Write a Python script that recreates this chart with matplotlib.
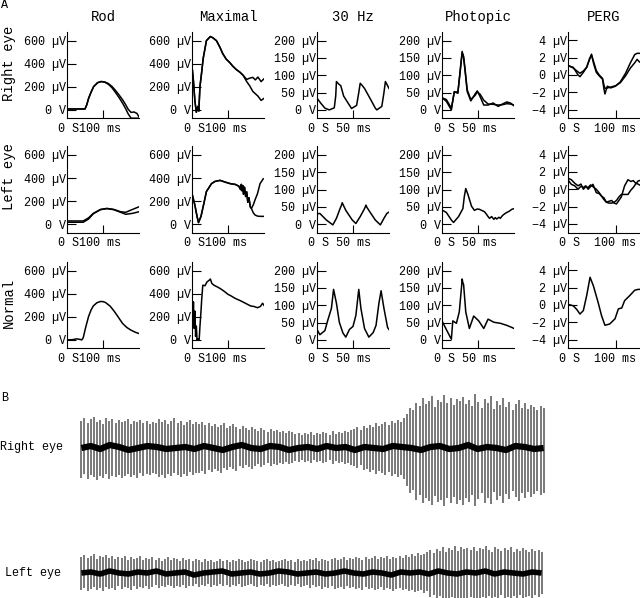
import numpy as np
import matplotlib.pyplot as plt

W, H = 640, 598
plt.rcParams['font.family'] = ['Liberation Mono', 'DejaVu Sans Mono']

# ---------------- panel A data (time in ms, amplitude in uV) ----------------
# row 1: right eye
rod_re_t = [0, 25, 50, 55, 60, 67, 74, 85, 95, 105, 115, 125, 135, 145, 155, 163, 170, 178, 186, 194, 200]
rod_re_a = [8, 8, 8, 45, 100, 155, 202, 236, 246, 240, 222, 192, 150, 105, 55, 10, -35, -72, -72, -72, -72]
rod_re_b = [8, 8, 8, 45, 100, 155, 202, 236, 246, 242, 228, 203, 168, 128, 85, 45, 5, -22, -18, -30, -60]

max_re_t = [0, 4, 8, 12, 16, 19, 22, 27, 31, 36, 40, 46, 51, 58, 68, 78, 85, 95, 105, 113, 123, 133, 142,
            152, 160, 169, 176, 183, 192, 200]
max_re_a = [380, 250, 80, -20, 30, -10, 200, 330, 445, 530, 600, 620, 636, 625, 600, 540, 490, 440, 410, 380,
            350, 327, 300, 264, 275, 282, 260, 285, 245, 270]
max_re_b = [380, 250, 80, -20, 30, -10, 200, 330, 445, 530, 600, 620, 636, 625, 600, 540, 490, 440, 410, 380,
            350, 327, 300, 245, 210, 160, 140, 120, 82, 100]

hz_re_t = [0, 5, 11, 17, 24, 26, 27, 30, 33, 37, 44, 48, 55, 58, 60, 63, 66, 74, 81, 83, 90, 93, 95, 100]
hz_re_v = [34, 20, 5, 0, 6, 40, 82, 75, 70, 40, 17, 4, 13, 50, 77, 70, 62, 32, 5, 0, 10, 50, 82, 62]

pho_re_t = [0, 6, 13, 17, 20, 22, 25, 28, 30, 32, 35, 40, 46, 49, 53, 58, 64, 71, 78, 84, 90, 95, 100]
pho_re_a = [35, 25, 0, 53, 50, 48, 110, 169, 150, 114, 53, 26, 46, 55, 38, 14, 14, 20, 10, 17, 23, 20, 12]
pho_re_b = [35, 30, 5, 50, 52, 50, 105, 165, 155, 118, 58, 30, 42, 52, 45, 28, 17, 16, 14, 15, 18, 17, 14]

perg_re_t = [0, 12, 22, 26, 33, 40, 46, 50, 54, 60, 66, 73, 76, 78, 83, 90, 100, 110, 121, 131, 140, 145, 150]
perg_re_a = [1.08, 0.88, 0.0, -0.2, 0.3, 0.88, 1.8, 2.4, 1.4, 0.3, -0.1, -0.5, -1.65, -2.2, -1.3, -1.5, -1.3,
             -0.8, 0.2, 1.4, 2.35, 2.5, 2.5]
perg_re_b = [1.15, 0.8, 0.35, 0.2, 0.45, 0.9, 1.9, 2.3, 1.6, 0.5, 0.0, -0.4, -1.2, -1.55, -1.5, -1.4, -1.25,
             -0.9, -0.1, 0.8, 1.4, 1.8, 1.5]

# row 2: left eye
rod_le_t = [0, 25, 45, 60, 73, 93, 111, 130, 149, 163, 182, 200]
rod_le_a = [28, 28, 28, 55, 94, 128, 137, 128, 108, 103, 128, 151]
rod_le_b = [17, 17, 17, 45, 90, 126, 135, 126, 103, 86, 94, 108]

max_le_t = [0, 8, 14, 18, 25, 33, 40, 54, 64, 78, 92, 107, 120, 130, 135, 137, 139, 141, 143, 146, 149, 152,
            155, 158, 162, 165, 170, 175, 182, 189, 198]
max_le_a = [266, 165, 68, 14, 68, 180, 283, 351, 371, 380, 365, 351, 345, 330, 300, 345, 290, 335, 260, 320,
            240, 280, 190, 230, 150, 137, 100, 80, 70, 68, 68]
max_le_b = [266, 165, 68, 14, 68, 180, 283, 351, 371, 380, 365, 351, 345, 330, 300, 345, 290, 335, 260, 320,
            240, 280, 190, 230, 150, 137, 166, 210, 266, 351, 394]

hz_le_t = [0, 4, 13, 22, 27, 32, 34, 35, 40, 49, 54, 60, 66, 68, 69, 72, 81, 88, 93, 97, 100]
hz_le_v = [30, 31, 12, -2, 17, 45, 55, 62, 40, 12, 2, 22, 45, 55, 50, 40, 12, -2, 17, 31, 35]

pho_le_t = [0, 6, 13, 16, 23, 29, 31, 33, 36, 41, 45, 49, 52, 55, 59, 62, 64, 66, 69, 72, 74, 76, 79, 81,
            84, 87, 90, 93, 97, 100]
pho_le_v = [41, 34, 12, 5, 22, 45, 80, 103, 86, 52, 40, 44, 43, 40, 36, 28, 22, 17, 22, 14, 19, 15, 20, 17,
            25, 30, 34, 37, 43, 45]

perg_le_t = [0, 8, 15, 22, 28, 33, 38, 43, 48, 53, 60, 66, 71, 76, 81, 86, 92, 97, 102, 107, 112, 119, 126,
             132, 137, 142, 147, 150]
perg_le_a = [1.14, 0.57, 0.4, 0.0, 0.35, 0.2, 0.4, 0.0, 0.3, 0.57, -0.4, -0.5, -0.8, -1.2, -1.5, -1.4, -1.3,
             -1.6, -1.7, -1.3, -0.9, 0.4, 1.1, 0.9, 1.0, 0.7, 0.6, 0.5]
perg_le_b = [1.3, 1.1, 0.7, 0.4, 0.6, 0.0, 0.3, 0.2, 0.5, 0.3, 0.0, -0.4, -0.8, -1.0, -1.5, -1.6, -1.6, -1.5,
             -1.3, -0.9, -0.6, -0.6, -0.6, -0.1, 0.2, 0.6, 0.95, 1.0]

# row 3: normal
rod_no_t = [0, 15, 27, 35, 41, 45, 52, 60, 67, 73, 83, 93, 100, 107, 120, 131, 143, 154, 166, 178, 190, 201]
rod_no_v = [0, 2, 9, 5, 0, 18, 110, 204, 260, 294, 322, 333, 332, 324, 292, 249, 195, 144, 108, 84, 66, 54]

max_no_t = [0, 2, 4, 6, 8, 10, 12, 14, 16, 18, 20, 22, 25, 27, 30, 36, 42, 47, 51, 55, 61, 70, 79, 90, 100,
            107, 120, 135, 150, 163, 172, 182, 190, 196, 200]
max_no_v = [354, 150, 330, 100, 250, 30, 120, 0, 10, 0, 5, 114, 250, 354, 474, 470, 504, 515, 528, 490, 474,
            460, 444, 420, 395, 384, 360, 339, 315, 294, 290, 279, 290, 318, 300]

hz_no_t = [0, 4, 11, 15, 20, 23, 27, 31, 36, 40, 45, 50, 54, 58, 61, 66, 72, 78, 82, 86, 89, 93, 98, 100]
hz_no_v = [30, 15, 27, 57, 91, 146, 106, 51, 20, 8, 30, 39, 71, 146, 91, 33, 8, 21, 42, 106, 142, 91, 36, 30]

pho_no_t = [0, 6, 13, 15, 20, 24, 27, 28, 29, 30, 33, 38, 44, 51, 58, 64, 72, 81, 90, 97, 100]
pho_no_v = [55, 30, 2, 55, 48, 81, 150, 176, 165, 160, 81, 33, 69, 55, 33, 60, 51, 48, 42, 36, 33]

perg_no_t = [0, 12, 19, 26, 33, 40, 47, 54, 64, 71, 78, 88, 99, 106, 113, 119, 130, 140, 147, 150]
perg_no_v = [0.1, -0.1, -0.5, -1.05, -0.65, 1.1, 3.2, 2.2, 0.25, -1.25, -2.35, -2.2, -1.6, -0.45, -0.35,
             0.5, 1.1, 1.7, 1.8, 1.8]

col_titles = ['Rod', 'Maximal', '30 Hz', 'Photopic', 'PERG']
row_titles = ['Right eye', 'Left eye', 'Normal']
x_strings = ['0 S100 ms', '0 S100 ms', '0 S 50 ms', '0 S 50 ms', '0 S  100 ms']
x_marks = [100, 100, 50, 50, 100]
x_lims = [(0, 200), (0, 200), (0, 100), (0, 100), (0, 150)]
y_lims = [(-72, 678), (-72, 678), (-24, 226), (-24, 226), (-5, 5)]
y_ticks = [[0, 200, 400, 600], [0, 200, 400, 600], [0, 50, 100, 150, 200], [0, 50, 100, 150, 200],
           [-4, -2, 0, 2, 4]]

# ---------------- panel B data (EOG deflections, px above / below baseline) ----------------
rt_up = [27, 30, 25, 29, 31, 26, 28, 24, 30, 27, 29, 25, 28, 26, 27, 29, 24, 27, 26, 28,
         25, 27, 24, 26, 25, 29, 26, 28, 24, 27, 30, 25, 27, 23, 26, 28, 24, 26,
         24, 26, 23, 25, 22, 24, 21, 23, 25, 20, 22, 24, 21, 19, 22, 20, 18, 21, 19, 17,
         20, 18, 16, 19, 17, 18, 16, 17, 15, 17,
         16, 14, 15, 13, 15, 14, 16, 13, 15, 14, 16, 15, 13, 17, 14, 16, 15, 17, 16, 18,
         19, 21, 18, 22, 20, 23, 21, 25, 22, 24, 26, 23, 27, 25, 28, 26, 30,
         34, 40, 38, 45, 42, 50, 44, 47, 52, 41, 48, 46, 53, 45, 50, 43, 49, 47, 51, 44,
         48, 42, 54, 46, 40, 49, 45, 52, 39, 47, 43, 50, 41, 46, 38, 44, 48, 40, 45, 39,
         43, 41, 38, 42, 40]
rt_dn = [30, 26, 31, 27, 29, 32, 28, 30, 26, 31, 28, 29, 27, 30, 28, 26, 29, 27, 30, 25,
         28, 26, 27, 25, 26, 29, 27, 30, 26, 28, 25, 27, 29, 26, 28, 24, 27, 25,
         25, 23, 26, 22, 24, 21, 23, 25, 20, 22, 19, 21, 23, 18, 20, 17, 19, 21, 18, 16,
         19, 17, 15, 18, 16, 17, 15, 16, 14, 16,
         15, 13, 14, 12, 14, 13, 15, 12, 14, 13, 15, 14, 12, 16, 13, 15, 14, 16, 15, 17,
         18, 20, 17, 22, 21, 24, 22, 26, 23, 25, 27, 24, 28, 26, 29, 27, 31,
         38, 45, 42, 52, 47, 55, 50, 53, 57, 48, 54, 52, 58, 50, 55, 49, 56, 52, 57, 50,
         54, 47, 58, 51, 45, 55, 50, 56, 44, 52, 48, 55, 46, 51, 43, 49, 53, 45, 50, 44,
         49, 46, 43, 47, 45]
rt_mid = [0, 2, -1, 3, 1, -2, 0, 2, 1, -1, 0, 1, -1, 2, 0, -2, 1, 3, 0, -1, 2, 1, -2, 0, 1,
          -1, 2, 0, 1, -2, 1, 0, -1, 2, 1, 0, -2, 1, 2, -1, 0, 3, -1, 1, 0, -2, 2, 1, -1, 0]

lt_up = [16, 18, 15, 17, 19, 14, 17, 16, 18, 15, 17, 14, 16, 15, 17, 13, 16, 14, 15, 17,
         13, 15, 14, 16, 13, 15, 12, 14, 16, 13, 15, 14, 12, 15, 13, 14,
         12, 14, 13, 11, 14, 12, 13, 11, 12, 14, 12, 13, 11, 13, 12, 14, 13, 11, 12, 14,
         13, 12, 11, 13, 14, 12, 13, 11, 12, 13, 14, 12, 13, 11, 14, 12, 13, 12, 14, 13,
         15, 12, 14, 13, 12, 14, 15, 13, 14, 16, 13, 15, 14, 16, 15, 13, 16, 14, 15, 17,
         14, 16, 15, 17, 14, 16, 15,
         17, 15, 18, 16, 19, 17, 20, 18, 19, 21,
         23, 20, 24, 22, 26, 21, 25, 23, 27, 22, 26, 24, 25, 23, 26, 22, 25, 24, 27, 23,
         21, 26, 24, 22, 25, 23, 26, 21, 24, 22, 25, 23, 21, 24, 22, 23, 21]
lt_dn = [17, 15, 18, 16, 14, 17, 15, 18, 14, 16, 15, 17, 13, 16, 14, 15, 17, 13, 16, 14,
         15, 13, 16, 14, 12, 15, 13, 14, 12, 13, 15, 13, 14, 12, 15, 13,
         13, 11, 14, 12, 13, 11, 14, 12, 13, 11, 13, 12, 14, 12, 13, 11, 14, 13, 12, 11,
         13, 14, 12, 13, 11, 14, 12, 13, 12, 11, 13, 14, 12, 13, 11, 14, 13, 12, 15, 12,
         14, 13, 16, 14, 15, 13, 16, 15, 14, 16, 13, 15, 14, 16, 15, 17, 14, 16, 15, 17,
         16, 14, 17, 15, 16, 18, 16,
         15, 17, 16, 18, 17, 19, 18, 17, 20, 18,
         24, 22, 26, 23, 27, 25, 28, 24, 29, 26, 27, 25, 28, 24, 27, 25, 26, 24, 27, 23,
         25, 24, 28, 22, 26, 24, 27, 23, 25, 22, 26, 24, 23, 25, 22, 24, 21]
lt_mid = [0, 1, -1, 2, 0, -1, 1, 0, 2, -1, 0, 1, -2, 0, 1, 2, -1, 0, 1, -1, 0, 2, 1, -1, 0,
          1, -1, 0, 2, 0, -1, 1, 0, -2, 1, 0, 1, -1, 2, 0, -1, 1, 0, 2, -1, 1, 0, -1, 1, 0]

# ---------------- build figure ----------------
fig = plt.figure(figsize=(6.4, 5.98), dpi=100)


def px_axes(x0, top, w, h):
    return fig.add_axes([x0 / W, 1 - (top + h) / H, w / W, h / H])


def ftext(x, y, s, **kw):
    fig.text(x / W, 1 - y / H, s, **kw)


def ylabel_text(v, perg):
    if v == 0 and not perg:
        return '0 V'
    return f'{v} µV'.replace('-', '\u2212')


curves = [
    [(rod_re_t, [rod_re_a, rod_re_b]), (max_re_t, [max_re_a, max_re_b]), (hz_re_t, [hz_re_v]),
     (pho_re_t, [pho_re_a, pho_re_b]), (perg_re_t, [perg_re_a, perg_re_b])],
    [(rod_le_t, [rod_le_a, rod_le_b]), (max_le_t, [max_le_a, max_le_b]), (hz_le_t, [hz_le_v]),
     (pho_le_t, [pho_le_v]), (perg_le_t, [perg_le_a, perg_le_b])],
    [(rod_no_t, [rod_no_v]), (max_no_t, [max_no_v]), (hz_no_t, [hz_no_v]),
     (pho_no_t, [pho_no_v]), (perg_no_t, [perg_no_v])],
]

col_x = [67, 192, 317, 442, 567.5]
row_top = [31.7, 146, 261.7]
ax_w, ax_h = 72, 86.5

for r in range(3):
    for c in range(5):
        ax = px_axes(col_x[c], row_top[r], ax_w, ax_h)
        t, series = curves[r][c]
        for s in series:
            ax.plot(t, s, color='black', lw=1.1)
        ax.set_xlim(*x_lims[c])
        ax.set_ylim(*y_lims[c])
        for side in ['top', 'right']:
            ax.spines[side].set_visible(False)
        for side in ['left', 'bottom']:
            ax.spines[side].set_linewidth(0.8)
        ax.set_xticks([x_marks[c]])
        ax.tick_params(axis='x', direction='in', length=6, width=0.8, labelbottom=False)
        ax.set_yticks(y_ticks[c])
        ax.set_yticklabels([ylabel_text(v, c == 4) for v in y_ticks[c]])
        ax.tick_params(axis='y', direction='in', length=6.5, width=0.8, pad=0.5, labelsize=8.5)
        ax.annotate(x_strings[c], xy=(0, 0), xycoords='axes fraction', xytext=(-8.5, -10.5),
                    textcoords='offset pixels', ha='left', va='center', fontsize=8.5)

for c in range(5):
    ftext(col_x[c] + ax_w / 2, 17, col_titles[c], ha='center', va='center', fontsize=10)
for r, yc in enumerate([63, 177, 303]):
    ftext(9, yc, row_titles[r], rotation=90, ha='center', va='center', fontsize=10)

ftext(1, 5, 'A', ha='left', va='center', fontsize=8.5)
ftext(1, 398, 'B', ha='left', va='center', fontsize=8.5)

# ---------------- panel B ----------------
ftext(0, 447, 'Right eye', ha='left', va='center', fontsize=8.5)
ftext(5, 573, 'Left eye', ha='left', va='center', fontsize=8.5)


def eog(ax, up, dn, mid, band_lw):
    xs = np.linspace(0, 1, len(up))
    ax.vlines(xs, -np.array(dn), up, color='#555555', lw=1.1)
    ax.plot(np.linspace(0, 1, len(mid)), mid, color='black', lw=band_lw, solid_capstyle='butt')
    ax.set_xlim(-0.003, 1.003)
    ax.axis('off')


bx = px_axes(80, 378, 465, 140)
eog(bx, rt_up, rt_dn, rt_mid, 4.5)
bx.set_ylim(-70, 70)

lx = px_axes(80, 523, 463, 100)
eog(lx, lt_up, lt_dn, lt_mid, 4)
lx.set_ylim(-50, 50)

fig.savefig('out.png', dpi=100)
